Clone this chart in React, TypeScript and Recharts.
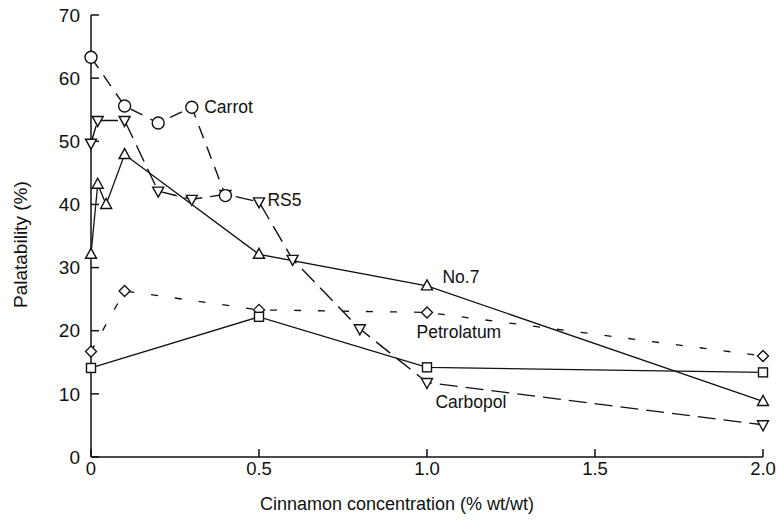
import { LineChart, Line, XAxis, YAxis, ReferenceDot, Label } from "recharts";

const xTicks = [0, 0.5, 1, 1.5, 2];
const yTicks = [0, 10, 20, 30, 40, 50, 60, 70];

const carrot = [
  { x: 0, y: 63.3 },
  { x: 0.1, y: 55.6 },
  { x: 0.2, y: 52.9 },
  { x: 0.3, y: 55.4 },
  { x: 0.4, y: 41.4 },
];

const rs5 = [
  { x: 0, y: 49.7 },
  { x: 0.02, y: 53.3 },
  { x: 0.1, y: 53.3 },
  { x: 0.2, y: 42.1 },
  { x: 0.3, y: 40.8 },
  { x: 0.4, y: 41.6 },
  { x: 0.5, y: 40.4 },
  { x: 0.6, y: 31.3 },
  { x: 0.8, y: 20.3 },
  { x: 1, y: 11.8 },
  { x: 2, y: 5.1 },
];

const no7 = [
  { x: 0, y: 32.1 },
  { x: 0.02, y: 43.2 },
  { x: 0.045, y: 40 },
  { x: 0.1, y: 47.9 },
  { x: 0.5, y: 32.1 },
  { x: 1, y: 27.1 },
  { x: 2, y: 8.8 },
];

const petrolatum = [
  { x: 0, y: 16.7 },
  { x: 0.1, y: 26.3 },
  { x: 0.5, y: 23.3 },
  { x: 1, y: 22.9 },
  { x: 2, y: 16.0 },
];

const carbopol = [
  { x: 0, y: 14.1 },
  { x: 0.5, y: 22.2 },
  { x: 1, y: 14.2 },
  { x: 2, y: 13.4 },
];

// series annotations (left edge / vertical middle of the text, in data units)
const notes = [
  { text: "Carrot", x: 0.337, y: 55.4 },
  { text: "RS5", x: 0.525, y: 40.8 },
  { text: "No.7", x: 1.046, y: 28.6 },
  { text: "Petrolatum", x: 0.969, y: 19.8 },
  { text: "Carbopol", x: 1.025, y: 8.7 },
];

const FONT = "'Liberation Sans', Arial, sans-serif";
const INK = "#111";

type Shape = "circle" | "up" | "down" | "diamond" | "square";

function marker(shape: Shape) {
  return (props: any) => {
    const { cx, cy, index } = props;
    const k = `${shape}-${index}`;
    const common = { fill: "#fff", stroke: INK, strokeWidth: 1.4 };
    if (cx == null || cy == null) return <g key={k} />;
    if (shape === "circle") return <circle key={k} cx={cx} cy={cy} r={6} {...common} />;
    if (shape === "square")
      return <rect key={k} x={cx - 4.5} y={cy - 4.5} width={9} height={9} {...common} />;
    if (shape === "diamond")
      return (
        <polygon
          key={k}
          points={`${cx},${cy - 5.5} ${cx + 5.5},${cy} ${cx},${cy + 5.5} ${cx - 5.5},${cy}`}
          {...common}
        />
      );
    if (shape === "up")
      return (
        <polygon
          key={k}
          points={`${cx},${cy - 6} ${cx + 5.5},${cy + 4} ${cx - 5.5},${cy + 4}`}
          {...common}
        />
      );
    return (
      <polygon
        key={k}
        points={`${cx},${cy + 6} ${cx + 5.5},${cy - 4} ${cx - 5.5},${cy - 4}`}
        {...common}
      />
    );
  };
}

export default function App() {
  return (
    <div style={{ position: "absolute", left: 0, top: 0, background: "#fff" }}>
      <LineChart
        width={776}
        height={520}
        margin={{ top: 15, right: 13, left: 0, bottom: 0 }}
        style={{ fontFamily: FONT }}
      >
        <XAxis
          dataKey="x"
          type="number"
          domain={[0, 2]}
          ticks={xTicks}
          tickFormatter={(v) => (v === 0 ? "0" : v.toFixed(1))}
          height={63}
          stroke={INK}
          strokeWidth={1.5}
          tickSize={-8}
          tickMargin={13}
          tick={{ fill: INK, fontSize: 18.5, fontFamily: FONT }}
        >
          <Label
            content={() => (
              <text x={397} y={505} textAnchor="middle" dominantBaseline="middle" fill={INK} fontSize={18} fontFamily={FONT}>
                Cinnamon concentration (% wt/wt)
              </text>
            )}
          />
        </XAxis>
        <YAxis
          type="number"
          domain={[0, 70]}
          ticks={yTicks}
          width={91}
          stroke={INK}
          strokeWidth={1.5}
          tickSize={-8}
          tickMargin={19}
          tick={{ fill: INK, fontSize: 19, fontFamily: FONT }}
        >
          <Label
            content={() => (
              <text
                x={22}
                y={308}
                transform="rotate(-90 22 308)"
                textAnchor="start"
                dominantBaseline="middle"
                fill={INK}
                fontSize={19}
                fontFamily={FONT}
              >
                Palatability (%)
              </text>
            )}
          />
        </YAxis>

        <Line data={petrolatum} dataKey="y" type="linear" stroke={INK} strokeWidth={1.3} strokeDasharray="7 17" dot={marker("diamond")} isAnimationActive={false} />
        <Line data={carbopol} dataKey="y" type="linear" stroke={INK} strokeWidth={1.3} dot={marker("square")} isAnimationActive={false} />
        <Line data={no7} dataKey="y" type="linear" stroke={INK} strokeWidth={1.3} dot={marker("up")} isAnimationActive={false} />
        <Line data={rs5} dataKey="y" type="linear" stroke={INK} strokeWidth={1.4} strokeDasharray="18 8" dot={marker("down")} isAnimationActive={false} />
        <Line data={carrot} dataKey="y" type="linear" stroke={INK} strokeWidth={1.4} strokeDasharray="13 9" dot={marker("circle")} isAnimationActive={false} />

        {notes.map((n) => (
          <ReferenceDot
            key={n.text}
            x={n.x}
            y={n.y}
            r={0}
            stroke="none"
            fill="none"
            label={{ value: n.text, position: "right", offset: 0, fill: INK, fontSize: 17.5, fontFamily: FONT }}
          />
        ))}
      </LineChart>
    </div>
  );
}
